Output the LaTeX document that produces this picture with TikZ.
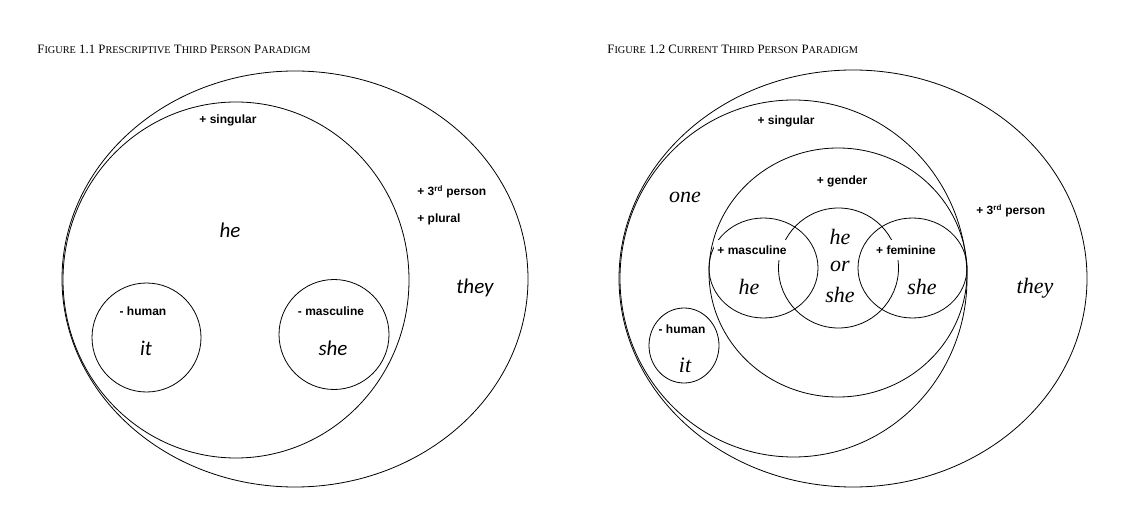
\documentclass[tikz,border=0pt]{standalone}
\usepackage{fontspec}
\setmainfont{Liberation Serif}
\newfontfamily\featfont{Liberation Sans}
\newfontfamily\calfont{Carlito}
\newcommand{\smc}[2]{#1{\fontsize{10.3}{12}\selectfont #2}}

\begin{document}
\begin{tikzpicture}[x=1pt, y=-1pt, line width=0.8pt,
    feat/.style={font=\featfont\bfseries\fontsize{12}{14}\selectfont, inner sep=0pt},
    cover/.style={fill=white, inner xsep=3pt, inner ysep=6pt},
    pron/.style={font=\calfont\itshape\fontsize{21}{24}\selectfont, inner sep=0pt},
    spron/.style={font=\itshape\fontsize{22}{24}\selectfont, inner sep=0pt},
    caption/.style={font=\fontsize{12.8}{14}\selectfont, anchor=west, inner sep=0pt}]

  \useasboundingbox (0,0) rectangle (1134,526);

  % Figure 1.1
  \node[caption] (capA) at (37,49) {\smc{F}{IGURE} 1.1 \smc{P}{RESCRIPTIVE} \smc{T}{HIRD} \smc{P}{ERSON} \smc{P}{ARADIGM}};

  \coordinate (thirdA) at (295,279);
  \coordinate (singA) at (236,280);
  \coordinate (humA) at (146.5,337.5);
  \coordinate (femA) at (334,334.5);

  \draw (thirdA) ellipse (233pt and 208pt);
  \draw (singA) ellipse (173pt and 178pt);
  \draw (humA) circle (54.5pt);
  \draw (femA) circle (55pt);

  \node[feat] (singlabA) at (228,120) {+ singular};
  \node[pron] (heA) at (230,230) {he};
  \node[feat, anchor=west] (perslabA) at (417,192) {+ 3\textsuperscript{rd} person};
  \node[feat, anchor=west] (plurlabA) at (417,219) {+ plural};
  \node[pron] (theyA) at (475,288) {they};
  \node[feat] (humlabA) at (143,311) {- human};
  \node[pron] (itA) at (146,348) {it};
  \node[feat] (femlabA) at (331,311) {- masculine};
  \node[pron] (sheA) at (333,348) {she};

  % Figure 1.2
  \node[caption] (capB) at (607,49) {\smc{F}{IGURE} 1.2 \smc{C}{URRENT} \smc{T}{HIRD} \smc{P}{ERSON} \smc{P}{ARADIGM}};

  \coordinate (thirdB) at (853,278.5);
  \coordinate (singB) at (793.5,278.5);
  \coordinate (gendB) at (838,272.5);
  \coordinate (mascB) at (763.5,268);
  \coordinate (bothB) at (838.5,268);
  \coordinate (femB) at (912.5,268);
  \coordinate (humB) at (684,345.5);

  \draw (thirdB) ellipse (234pt and 208.5pt);
  \draw (singB) ellipse (173.5pt and 178.5pt);
  \draw (gendB) ellipse (129pt and 124.5pt);
  \draw (mascB) ellipse (54.5pt and 50pt);
  \draw (bothB) circle (60pt);
  \draw (femB) ellipse (54.5pt and 50pt);
  \draw (humB) ellipse (35pt and 37.5pt);

  \node[feat] (singlabB) at (786,121) {+ singular};
  \node[spron] (oneB) at (685,197) {one};
  \node[feat] (gendlabB) at (842,181) {+ gender};
  \node[feat, anchor=west] (perslabB) at (976,211) {+ 3\textsuperscript{rd} person};
  \node[spron] (theyB) at (1035,288) {they};
  \node[feat, cover] (masclabB) at (752,250) {+ masculine};
  \node[spron] (heB) at (749,287) {he};
  \node[spron] (heorB) at (840,237) {he};
  \node[spron] (orB) at (840,266) {or};
  \node[spron] (sheorB) at (840,295) {she};
  \node[feat, cover] (femlabB) at (906,250) {+ feminine};
  \node[spron] (sheB) at (922,287) {she};
  \node[feat] (humlabB) at (682,329) {- human};
  \node[spron] (itB) at (685,365) {it};
\end{tikzpicture}
\end{document}
